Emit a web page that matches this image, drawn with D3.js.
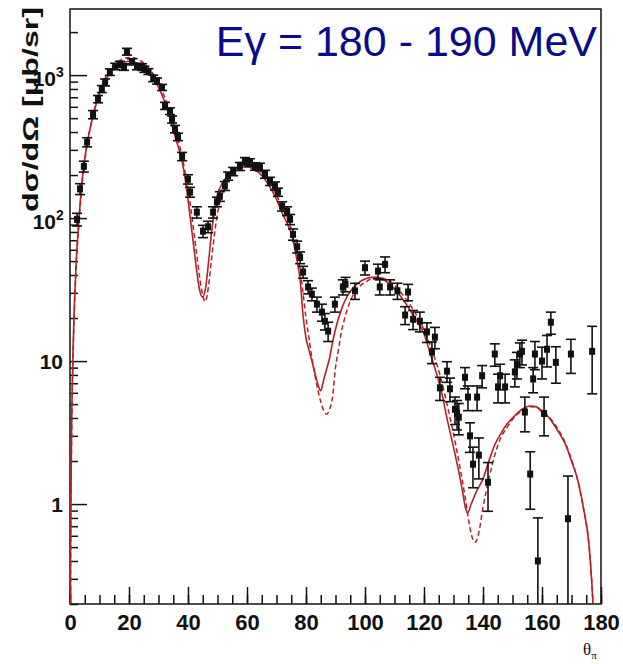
<!DOCTYPE html>
<html>
<head>
<meta charset="utf-8">
<script src="https://cdn.jsdelivr.net/npm/d3@7"></script>
<style>
  html, body { margin: 0; padding: 0; background: #fff; }
  svg { display: block; font-family: "Liberation Sans", Arial, sans-serif; }
</style>
</head>
<body>
<div id="chart"></div>
<script>
// ---------------- DATA ----------------
const titleText = "Eγ = 180 - 190 MeV";
const yTitle = "dσ/dΩ [μb/sr]";
const xTickLabels = [0, 20, 40, 60, 80, 100, 120, 140, 160, 180];
const yMajorTicks = [1, 10, 100, 1000];
const yTickLabels = [["1", ""], ["10", ""], ["10", "2"], ["10", "3"]];

// measured points: angle (deg), cross section, error
const dataTheta = [2.4, 3.4, 4.7, 5.8, 7.8, 9.5, 10.8, 11.9, 13.5, 15.3, 16.9, 18.3, 19.3, 21.0, 22.7, 24.4, 25.2, 26.6, 28.2,
  29.5, 31.2, 32.2, 33.9, 34.6, 35.6, 36.6, 38.0, 40.0, 40.7, 43.0, 45.1, 46.8, 48.5, 49.8, 50.8, 52.5, 53.6, 55.3, 57.6,
  59.3, 61.0, 62.7, 64.4, 66.1, 67.8, 69.5, 70.5, 71.9, 73.6, 74.6, 75.6, 77.0, 78.0, 79.0, 80.7, 82.0, 83.7, 85.4, 86.4,
  87.5, 89.8, 92.5, 93.4, 96.6, 100.0, 104.4, 105.0, 106.8, 108.5, 111.0, 113.6, 114.6, 116.3, 118.6, 121.0, 122.7, 123.7,
  125.4, 127.8, 128.8, 130.5, 131.2, 131.8, 133.9, 134.9, 135.6, 136.6, 138.0, 138.6, 139.7, 141.7, 144.0, 145.1, 145.8,
  147.5, 150.8, 151.5, 152.5, 153.2, 154.2, 156.0, 157.0, 157.6, 158.6, 160.0, 160.7, 161.7, 163.0, 164.7, 168.8, 169.8, 177.0];
const dataValue = [98, 160, 230, 340, 530, 680, 800, 890, 1050, 1150, 1190, 1140, 1460, 1240, 1150, 1140, 1100, 1060, 950,
  910, 820, 610, 560, 490, 420, 370, 270, 187, 152, 110, 81, 87, 110, 130, 142, 168, 197, 212, 230,
  250, 245, 230, 228, 203, 181, 168, 152, 121, 112, 98, 77, 63, 53, 42, 33, 29.4, 25, 22, 19,
  16.2, 25, 33, 34.5, 31, 45, 42.6, 33, 47.5, 33, 31, 21, 30.4, 19.6, 19, 16, 11.6, 14.7,
  6.5, 8.5, 6.4, 4.6, 4.3, 4.05, 7.7, 5.6, 3.0, 1.9, 5.6, 2.2, 7.9, 1.42, 11.2, 6.6, 7.9,
  6.6, 8.4, 9.5, 11.2, 11.7, 4.4, 1.62, 7.5, 11.2, 0.40, 10, 4.3, 12.1, 18.7, 9.8, 0.79, 11.2, 11.7];
const dataError = [10, 14, 20, 25, 35, 40, 45, 50, 55, 60, 60, 60, 80, 60, 60, 60, 55, 50, 50,
  45, 40, 35, 30, 28, 25, 22, 18, 14, 12, 10, 8, 8, 10, 10, 11, 12, 13, 14, 15,
  15, 15, 14, 14, 13, 12, 11, 10, 9, 8, 8, 7, 6, 5, 4, 3.5, 3, 3, 3, 2.5,
  2.5, 3, 4, 4, 4, 5, 5, 4, 6, 4, 4, 3, 4, 3, 3, 2.5, 2, 2.5,
  1.2, 1.4, 1.2, 1, 1, 1, 1.3, 1.1, 0.7, 0.6, 1.1, 0.7, 1.4, 0.53, 2, 1.5, 1.6,
  1.5, 1.8, 2, 2.2, 2.3, 1.2, 0.7, 1.5, 2.5, 0.4, 2.5, 1.3, 3, 3.3, 2.8, 0.78, 3, 5.8];

// model curve (solid)
const solidTheta = [0, 0.2, 0.5, 1, 1.5, 2, 3, 4, 5, 6, 7, 8, 10, 11, 12, 14, 16, 18, 20, 21, 22, 24, 26, 28, 30, 32, 34, 36,
  38, 39, 40, 41, 42, 43, 44, 45, 46, 47, 48, 49, 50, 52, 54, 56, 58, 60, 62, 64, 66, 68, 70, 72, 74, 75, 76, 77, 78,
  79, 80, 81, 82, 83, 84, 85, 86, 87, 88, 89, 90, 92, 94, 96, 98, 100, 102, 104, 106, 108, 110, 112, 114, 116, 118,
  120, 122, 124, 126, 128, 130, 132, 133, 134, 134.8, 136, 138, 140, 142, 144, 146, 148, 150, 152, 154, 156, 158, 160,
  162, 164, 166, 168, 170, 172, 174, 176, 177.3, 178, 179];
const solidValue = [0.01, 0.45, 2.8, 11, 25, 45, 95, 175, 260, 350, 440, 540, 740, 840, 920, 1060, 1160, 1220, 1250, 1255, 1230, 1170, 1080, 960, 820, 660, 490, 350,
  250, 190, 135, 92, 62, 42, 31, 28, 33, 50, 80, 112, 145, 180, 205, 220, 227, 228, 222, 208, 188, 162, 135, 108, 88, 78, 64, 50, 37,
  21, 14.5, 12, 10, 8.3, 6.9, 6.2, 7.4, 8.8, 10.5, 13.5, 16.7, 23, 28.5, 32.5, 35.5, 37.5, 38.5, 38.5, 37.5, 35, 32, 28.5, 25, 21.5, 18.5,
  15.5, 11.5, 8.5, 6, 3.8, 2.5, 1.6, 1.25, 0.95, 0.87, 1.0, 1.25, 1.5, 2.0, 2.6, 3.1, 3.6, 4.0, 4.4, 4.7, 4.85, 4.8, 4.4,
  4.1, 3.6, 3.1, 2.6, 2.0, 1.5, 0.95, 0.5, 0.2, 0.1, 0.03];

// model curve (dashed)
const dashTheta = [0, 0.2, 0.5, 1, 1.5, 2, 3, 4, 5, 6, 7, 8, 10, 11, 12, 14, 16, 18, 20, 22, 24, 26, 28, 30, 32, 34, 36,
  38, 39, 40, 41, 42, 43, 44, 45, 45.8, 46.5, 47, 48, 49, 50, 52, 54, 56, 58, 60, 62, 64, 66, 68, 70, 72, 74, 75, 76, 77, 78,
  79, 80, 81, 82, 83, 84, 85, 86, 87, 88, 89, 90, 91, 92, 93, 94, 96, 98, 100, 102, 104, 106, 108, 110, 112, 114, 116, 118,
  120, 122, 124, 126, 128, 130, 132, 134, 135, 136, 137.3, 138.5, 140, 142, 144, 146, 148, 150, 152, 154, 156, 158, 160,
  162, 164, 166, 168, 170, 172, 174, 176, 177.3, 178, 179];
const dashValue = [0.01, 0.4, 2.5, 10, 23, 42, 90, 165, 250, 345, 440, 545, 760, 860, 960, 1120, 1230, 1300, 1330, 1320, 1260, 1160, 1030, 880, 710, 540, 390,
  270, 210, 160, 115, 80, 55, 38, 29, 26, 29, 34, 52, 78, 108, 155, 192, 215, 228, 233, 230, 218, 198, 172, 145, 118, 96, 84, 70, 57, 44,
  30, 20, 14.5, 10.5, 8, 6.3, 5.2, 4.5, 4.25, 4.6, 5.6, 9, 12, 16, 19.5, 23, 29, 33, 35.5, 37.5, 38.5, 38, 36.5, 34, 30.5, 27, 23.5, 20,
  16.5, 13, 10, 7.2, 4.8, 3.1, 1.9, 1.1, 0.8, 0.62, 0.54, 0.62, 0.95, 1.5, 2.2, 2.9, 3.4, 3.9, 4.3, 4.6, 4.8, 4.75, 4.5,
  4.15, 3.7, 3.2, 2.65, 2.05, 1.5, 0.95, 0.5, 0.2, 0.1, 0.03];

// ---------------- CHART ----------------
const W = 623, H = 664;
const plot = { left: 70, right: 601, top: 9, bottom: 604 };
const curveColor = "#b3222a";

const svg = d3.select("#chart").append("svg").attr("width", W).attr("height", H);

const x = d3.scaleLinear().domain([0, 180]).range([plot.left, plot.right]);
const y = d3.scaleLog().domain([0.2, 2900]).range([plot.bottom, plot.top]);

svg.append("defs").append("clipPath").attr("id", "clip")
  .append("rect").attr("x", plot.left).attr("y", plot.top)
  .attr("width", plot.right - plot.left).attr("height", plot.bottom - plot.top);

// frame
svg.append("rect").attr("x", plot.left).attr("y", plot.top)
  .attr("width", plot.right - plot.left).attr("height", plot.bottom - plot.top)
  .attr("fill", "none").attr("stroke", "#111").attr("stroke-width", 1.5);

// x axis ticks (inside)
const xMinor = d3.range(0, 181, 5);
svg.append("g").attr("transform", `translate(0,${plot.bottom})`)
  .call(d3.axisBottom(x).tickValues(xMinor).tickSize(-9).tickFormat(""))
  .call(g => { g.select(".domain").remove(); g.selectAll("line").attr("stroke", "#111").attr("stroke-width", 1.5); });
svg.append("g").attr("transform", `translate(0,${plot.bottom})`)
  .call(d3.axisBottom(x).tickValues(xTickLabels).tickSize(-17).tickPadding(10).tickFormat(d3.format("d")))
  .call(g => {
    g.select(".domain").remove();
    g.selectAll("line").attr("stroke", "#111").attr("stroke-width", 1.5);
    g.selectAll("text").attr("font-size", 22).attr("font-weight", "bold").attr("fill", "#111")
      .attr("font-family", "Liberation Sans, Arial, sans-serif");
  });

// y axis ticks (inside)
const yMinor = [];
[0.1, 1, 10, 100, 1000].forEach(d => [2,3,4,5,6,7,8,9].forEach(k => { const v = d * k; if (v >= 0.2 && v <= 2900) yMinor.push(v); }));
svg.append("g").attr("transform", `translate(${plot.left},0)`)
  .call(d3.axisLeft(y).tickValues(yMinor).tickSize(-8).tickFormat(""))
  .call(g => { g.select(".domain").remove(); g.selectAll("line").attr("stroke", "#111").attr("stroke-width", 1.5); });
svg.append("g").attr("transform", `translate(${plot.left},0)`)
  .call(d3.axisLeft(y).tickValues(yMajorTicks).tickSize(-17).tickFormat(""))
  .call(g => { g.select(".domain").remove(); g.selectAll("line").attr("stroke", "#111").attr("stroke-width", 1.5); });

// y labels
yMajorTicks.forEach((v, i) => {
  const [base, sup] = yTickLabels[i];
  svg.append("text")
    .attr("x", sup ? 56 : 63).attr("y", y(v) + 8 + (sup ? 3 : 0))
    .attr("text-anchor", "end")
    .attr("font-size", 21).attr("font-weight", "bold").attr("fill", "#111")
    .text(base);
  if (sup) {
    svg.append("text").attr("x", 56).attr("y", y(v) + 2)
      .attr("font-size", 14).attr("font-weight", "bold").attr("fill", "#111").text(sup);
  }
});

// y title
svg.append("text")
  .attr("transform", `translate(38,7) rotate(-90)`)
  .attr("text-anchor", "end")
  .attr("font-size", 22).attr("font-weight", "bold").attr("fill", "#111")
  .attr("textLength", 205).attr("lengthAdjust", "spacingAndGlyphs")
  .text(yTitle);

// x title
const xt = svg.append("text").attr("x", 583).attr("y", 655)
  .attr("font-family", "Liberation Serif, Times New Roman, serif").attr("font-size", 17).attr("fill", "#111");
xt.append("tspan").text("θ");
xt.append("tspan").attr("font-size", 11).attr("dy", 4).text("π");

// curves
const plotG = svg.append("g").attr("clip-path", "url(#clip)");
const line = d3.line().x(d => x(d[0])).y(d => y(Math.max(d[1], 0.005))).curve(d3.curveMonotoneX);
plotG.append("path").datum(d3.zip(dashTheta, dashValue)).attr("d", line)
  .attr("fill", "none").attr("stroke", curveColor).attr("stroke-width", 1.5).attr("stroke-dasharray", "5,3");
plotG.append("path").datum(d3.zip(solidTheta, solidValue)).attr("d", line)
  .attr("fill", "none").attr("stroke", curveColor).attr("stroke-width", 1.6);

// data points
const pts = dataTheta.map((t, i) => ({ t, v: dataValue[i], e: dataError[i] }));
const pg = plotG.append("g").attr("stroke", "#111").attr("stroke-width", 1.6);
pts.forEach(p => {
  const cx = x(p.t);
  const yTop = y(p.v + p.e);
  const yBot = p.v - p.e > 0.005 ? y(p.v - p.e) : plot.bottom + 5;
  pg.append("line").attr("x1", cx).attr("x2", cx).attr("y1", yTop).attr("y2", yBot);
  pg.append("line").attr("x1", cx - 5).attr("x2", cx + 5).attr("y1", yTop).attr("y2", yTop);
  pg.append("line").attr("x1", cx - 5).attr("x2", cx + 5).attr("y1", yBot).attr("y2", yBot);
  pg.append("rect").attr("x", cx - 3).attr("y", y(p.v) - 3.5).attr("width", 6).attr("height", 7)
    .attr("fill", "#111").attr("stroke", "none");
});

// title
svg.append("text").attr("x", 597).attr("y", 56)
  .attr("text-anchor", "end")
  .attr("font-size", 43).attr("fill", "#0b0b8a")
  .text(titleText);
</script>
</body>
</html>
